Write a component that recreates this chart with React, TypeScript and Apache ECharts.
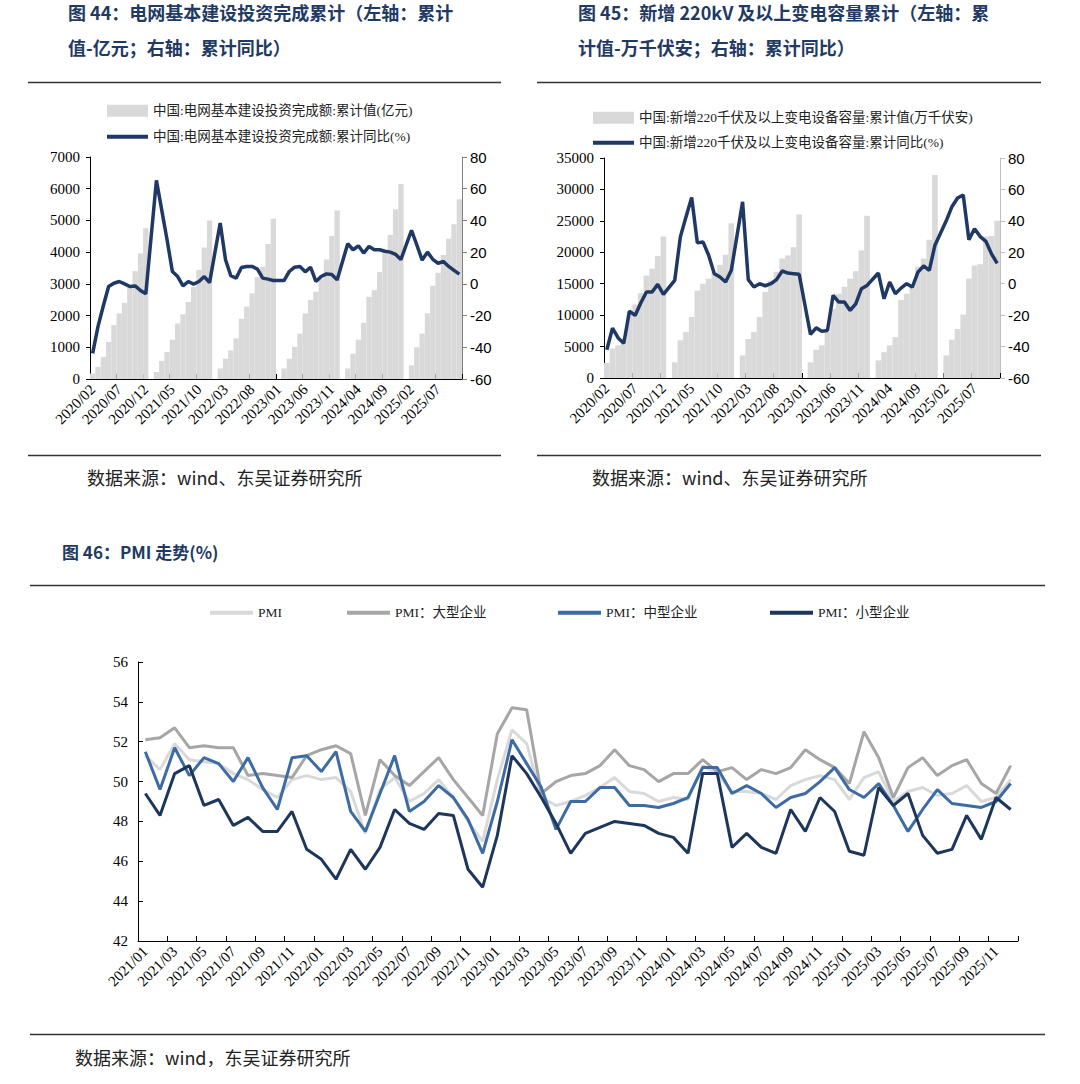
import React, { useEffect, useRef } from "react";
import * as echarts from "echarts";

// ---------- categories ----------
function monthRange(y0: number, m0: number, y1: number, m1: number): string[] {
  const out: string[] = [];
  let y = y0, m = m0;
  while (y < y1 || (y === y1 && m <= m1)) {
    out.push(`${y}/${m < 10 ? "0" + m : m}`);
    m++;
    if (m > 12) { m = 1; y++; }
  }
  return out;
}
const cats44 = monthRange(2020, 2, 2025, 11); // 70 months
const cats46 = monthRange(2021, 1, 2025, 12); // 60 months

// ---------- Fig 44: grid investment (Feb..Dec each year, Jan missing) ----------
const invest2020 = [170, 380, 700, 1170, 1700, 2070, 2400, 2900, 3400, 3960, 4750];
const invest2021 = [220, 570, 850, 1240, 1750, 2040, 2430, 2900, 3440, 4150, 5000];
const invest2022 = [330, 640, 900, 1280, 1900, 2280, 2700, 3220, 3540, 4260, 5050];
const invest2023 = [330, 640, 1010, 1430, 2070, 2490, 2750, 3170, 3770, 4510, 5310];
const invest2024 = [330, 800, 1240, 1770, 2590, 2800, 3370, 4000, 4540, 5350, 6150];
const invest2025 = [430, 1000, 1430, 2070, 2940, 3350, 3910, 4420, 4880, 5670];

const investYoy2020 = [-43.8, -27, -14, -1.7, 0.4, 1.5, 0, -1.7, -1.3, -4.2, -6.3];
const investYoy2021 = [65.3, 46.5, 27.8, 7.8, 4.6, -1.3, 1.5, -0.2, 1.5, 4.6, 0.8];
const investYoy2022 = [38.4, 15.2, 5.1, 3.6, 10.3, 11, 11, 9.3, 3.6, 3.0, 2.1];
const investYoy2023 = [2.1, 7.8, 10.5, 11, 7.6, 10.5, 1.5, 4.6, 6.3, 5.9, 2.5];
const investYoy2024 = [25.3, 21.5, 24.0, 19.4, 23.6, 21.5, 21.5, 20.6, 20.0, 18.6, 15.3];
const investYoy2025 = [33.8, 24.5, 15.0, 20.0, 15.5, 13.0, 14.1, 11.0, 8.5, 6.1];

// ---------- Fig 45: new 220kV+ substation capacity ----------
const cap2020 = [2400, 4700, 5200, 6000, 10500, 11700, 13500, 16300, 17400, 19400, 22500];
const cap2021 = [2500, 6000, 7300, 9700, 13900, 15000, 15800, 16900, 18000, 19600, 24600];
const cap2022 = [3600, 6200, 7300, 9700, 13700, 15500, 16900, 19000, 19500, 20800, 26000];
const cap2023 = [2500, 4500, 5200, 7300, 11000, 13400, 14500, 15800, 17000, 20300, 25800];
const cap2024 = [2800, 4100, 5200, 6500, 12400, 13400, 14500, 17700, 19000, 22000, 32300];
const cap2025 = [3600, 6100, 7800, 10100, 15800, 17900, 18100, 22500, 22600, 25000];

const capYoy2020 = [-42, -28.3, -34.5, -37.9, -17.4, -20.2, -12.3, -5.3, -5.3, -0.4, -6.8];
const capYoy2021 = [2.1, 29.8, 42.6, 54.9, 26, 26.6, 18.1, 6.4, 4.3, 1.1, 8.5];
const capYoy2022 = [52.1, 2.6, -2.1, 0, -1.3, 0, 2.6, 8.1, 6.8, 6.4, 6.0];
const capYoy2023 = [-32.3, -28.1, -30.2, -29.8, -7.4, -11.7, -11.7, -17, -12.8, -3.2, -1.1];
const capYoy2024 = [6.8, -9.6, 1.1, -6.4, -2.8, 0, -2.1, 7.4, 11.3, 8.5, 24.5];
const capYoy2025 = [40, 49, 54.5, 56.5, 28, 35, 30, 27, 19, 13];

// ---------- Fig 46: PMI ----------
const pmiAll = [
  51.3, 50.6, 51.9, 51.1, 51.0, 50.9, 50.4, 50.1, 49.6, 49.2, 50.1, 50.3,
  50.1, 50.2, 49.5, 47.4, 49.6, 50.2, 49.0, 49.4, 50.1, 49.2, 48.0, 47.0,
  50.1, 52.6, 51.9, 49.2, 48.8, 49.0, 49.3, 49.7, 50.2, 49.5, 49.4, 49.0,
  49.2, 49.1, 50.8, 50.4, 49.5, 49.5, 49.4, 49.1, 49.8, 50.1, 50.3, 50.1,
  49.1, 50.2, 50.5, 49.0, 49.5, 49.7, 49.3, 49.4, 49.8, 49.0, 49.2, 50.1,
];
const pmiLarge = [
  52.1, 52.2, 52.7, 51.7, 51.8, 51.7, 51.7, 50.3, 50.4, 50.3, 50.2, 51.3,
  51.6, 51.8, 51.4, 48.3, 51.1, 50.3, 49.8, 50.5, 51.2, 50.1, 49.2, 48.3,
  52.4, 53.7, 53.6, 49.4, 50.0, 50.3, 50.4, 50.8, 51.6, 50.8, 50.6, 50.0,
  50.4, 50.4, 51.1, 50.5, 50.7, 50.1, 50.6, 50.4, 50.7, 51.6, 51.1, 50.7,
  49.9, 52.5, 51.2, 49.2, 50.7, 51.2, 50.3, 50.8, 51.1, 49.9, 49.4, 50.8,
];
const pmiMedium = [
  51.5, 49.6, 51.7, 50.3, 51.2, 50.9, 50.0, 51.2, 49.7, 48.6, 51.2, 51.3,
  50.5, 51.5, 48.5, 47.5, 49.4, 51.3, 48.5, 49.0, 49.8, 49.2, 48.1, 46.4,
  49.0, 52.1, 50.9, 49.7, 47.6, 49.0, 49.0, 49.7, 49.7, 48.8, 48.8, 48.7,
  48.9, 49.2, 50.7, 50.7, 49.4, 49.8, 49.4, 48.7, 49.2, 49.4, 50.0, 50.7,
  49.6, 49.2, 49.9, 48.8, 47.5, 48.6, 49.6, 48.9, 48.8, 48.7, 49.0, 49.9,
];
const pmiSmall = [
  49.4, 48.3, 50.4, 50.8, 48.8, 49.1, 47.8, 48.2, 47.5, 47.5, 48.5, 46.6,
  46.1, 45.1, 46.6, 45.6, 46.7, 48.6, 47.9, 47.6, 48.4, 48.3, 45.6, 44.7,
  47.3, 51.3, 50.4, 49.2, 47.9, 46.4, 47.4, 47.7, 48.0, 47.9, 47.8, 47.4,
  47.2, 46.4, 50.4, 50.4, 46.7, 47.4, 46.7, 46.4, 48.6, 47.5, 49.2, 48.5,
  46.5, 46.3, 49.7, 48.8, 49.4, 47.3, 46.4, 46.6, 48.3, 47.1, 49.2, 48.6,
];

// ---------- texts ----------
const N44B = "中国:电网基本建设投资完成额:累计值(亿元)";
const N44L = "中国:电网基本建设投资完成额:累计同比(%)";
const N45B = "中国:新增220千伏及以上变电设备容量:累计值(万千伏安)";
const N45L = "中国:新增220千伏及以上变电设备容量:累计同比(%)";
const N46 = ["PMI", "PMI：大型企业", "PMI：中型企业", "PMI：小型企业"];

// join yearly Feb..Dec blocks, January has no data
function withJanGaps(blocks: number[][]): (number | null)[] {
  const out: (number | null)[] = [];
  blocks.forEach((b, k) => {
    if (k > 0) out.push(null);
    b.forEach((v) => out.push(v));
  });
  return out;
}

const SERIF = "'Liberation Serif','Times New Roman','Noto Sans CJK SC',serif";
const SANS = "'Liberation Sans',Arial,'Noto Sans CJK SC',sans-serif";
const CJK = "'Noto Sans CJK SC','Liberation Sans',sans-serif";
const NAVY = "#1F3864";
const TITLE = "#1F3A63";
const BAR = "#d9d9d9";

function catAxis(gridIndex: number, data: string[], every: number) {
  return {
    type: "category",
    gridIndex,
    data,
    boundaryGap: true,
    axisLine: { show: true, onZero: false, lineStyle: { color: "#000", width: 1 } },
    axisTick: { show: true, inside: true, length: 5, interval: every, lineStyle: { color: "#000" } },
    axisLabel: { interval: every, rotate: 45, fontSize: 15, fontFamily: SERIF, color: "#000", margin: 8 },
    splitLine: { show: false },
  };
}

function valAxis(gridIndex: number, position: string, min: number, max: number, interval: number, opts: any) {
  return {
    type: "value",
    gridIndex,
    position,
    min,
    max,
    interval,
    axisLine: { show: true, lineStyle: { color: opts.lineColor } },
    axisTick: { show: true, inside: !!opts.inside, length: opts.tickLen ?? 4, lineStyle: { color: opts.lineColor } },
    axisLabel: {
      fontFamily: opts.font, fontSize: 15, color: "#000", margin: opts.margin ?? 10,
      formatter: (v: number) => String(v),
    },
    splitLine: { show: false },
  };
}

function txt(x: number, y: number, text: string, size: number, color: string, bold: boolean, family = CJK) {
  return {
    type: "text",
    x,
    y,
    style: {
      text,
      fill: color,
      fontSize: size,
      fontWeight: bold ? "bold" : "normal",
      fontFamily: family,
      verticalAlign: "middle",
      align: "left",
    },
  };
}

function rule(x1: number, x2: number, y: number) {
  return { type: "line", shape: { x1, y1: y, x2, y2: y }, style: { stroke: "#333", lineWidth: 1.5 } };
}

function legendItem(name: string, left: number, centerY: number, w: number, h: number, size = 13.5) {
  return {
    left,
    top: centerY - 12,
    orient: "horizontal",
    itemWidth: w,
    itemHeight: h,
    selectedMode: false,
    textStyle: { fontFamily: SERIF, fontSize: size, color: "#222" },
    data: [{ name, icon: "rect" }],
  };
}

export default function App() {
  const ref = useRef<HTMLDivElement>(null);

  useEffect(() => {
    if (!ref.current) return;
    const chart = echarts.init(ref.current, undefined, { renderer: "svg" });

    const pmiColors = ["#d9d9d9", "#a6a6a6", "#3d6ba3", "#1c365c"];
    const pmiData = [pmiAll, pmiLarge, pmiMedium, pmiSmall];
    const pmiLegendLeft = [205, 342, 553, 765];

    const option: any = {
      animation: false,
      backgroundColor: "#ffffff",
      grid: [
        { left: 90, top: 157, width: 372, height: 222 },
        { left: 604, top: 158, width: 396, height: 220 },
        { left: 138, top: 662, width: 880, height: 279 },
      ],
      xAxis: [catAxis(0, cats44, 4), catAxis(1, cats44, 4), catAxis(2, cats46, 1)],
      yAxis: [
        valAxis(0, "left", 0, 7000, 1000, { lineColor: "#000", font: SERIF, tickLen: 4 }),
        valAxis(0, "right", -60, 80, 20, { lineColor: "#808080", font: SANS, tickLen: 5, margin: 8 }),
        valAxis(1, "left", 0, 35000, 5000, { lineColor: "#000", font: SERIF, tickLen: 4 }),
        valAxis(1, "right", -60, 80, 20, { lineColor: "#bfbfbf", font: SANS, tickLen: 5, margin: 8 }),
        valAxis(2, "left", 42, 56, 2, { lineColor: "#000", font: SERIF, tickLen: 5, inside: true }),
      ],
      legend: [
        legendItem(N44B, 102, 111, 41, 12),
        legendItem(N44L, 102, 137, 41, 4),
        legendItem(N45B, 588, 118, 41, 12),
        legendItem(N45L, 588, 143, 41, 4),
        ...N46.map((n, i) => legendItem(n, pmiLegendLeft[i], 613, 43, 4)),
      ],
      series: [
        {
          name: N44B, type: "bar", xAxisIndex: 0, yAxisIndex: 0,
          data: withJanGaps([invest2020, invest2021, invest2022, invest2023, invest2024, invest2025]),
          barCategoryGap: "0%", itemStyle: { color: BAR }, z: 1,
        },
        {
          name: N44L, type: "line", xAxisIndex: 0, yAxisIndex: 1,
          data: withJanGaps([investYoy2020, investYoy2021, investYoy2022, investYoy2023, investYoy2024, investYoy2025]),
          symbol: "none", connectNulls: true,
          lineStyle: { color: NAVY, width: 3.5 }, itemStyle: { color: NAVY }, z: 3,
        },
        {
          name: N45B, type: "bar", xAxisIndex: 1, yAxisIndex: 2,
          data: withJanGaps([cap2020, cap2021, cap2022, cap2023, cap2024, cap2025]),
          barCategoryGap: "0%", itemStyle: { color: BAR }, z: 1,
        },
        {
          name: N45L, type: "line", xAxisIndex: 1, yAxisIndex: 3,
          data: withJanGaps([capYoy2020, capYoy2021, capYoy2022, capYoy2023, capYoy2024, capYoy2025]),
          symbol: "none", connectNulls: true,
          lineStyle: { color: NAVY, width: 3.5 }, itemStyle: { color: NAVY }, z: 3,
        },
        ...N46.map((n, i) => ({
          name: n, type: "line", xAxisIndex: 2, yAxisIndex: 4, data: pmiData[i],
          symbol: "none", lineStyle: { color: pmiColors[i], width: 3 }, itemStyle: { color: pmiColors[i] },
          z: 2 + i,
        })),
      ],
      graphic: [
        txt(68, 12, "图 44：电网基本建设投资完成累计（左轴：累计", 18, TITLE, true),
        txt(68, 47, "值-亿元；右轴：累计同比）", 18, TITLE, true),
        txt(578, 12, "图 45：新增 220kV 及以上变电容量累计（左轴：累", 18, TITLE, true),
        txt(578, 47, "计值-万千伏安；右轴：累计同比）", 18, TITLE, true),
        rule(28, 501, 82.5),
        rule(537, 1041, 82.5),
        rule(28, 501, 455.5),
        rule(537, 1041, 455.5),
        txt(87, 477, "数据来源：wind、东吴证券研究所", 18, "#222", false),
        txt(592, 477, "数据来源：wind、东吴证券研究所", 18, "#222", false),
        txt(62, 551, "图 46：PMI 走势(%)", 17, TITLE, true),
        rule(30, 1045, 585.5),
        rule(30, 1045, 1034.5),
        txt(75, 1057, "数据来源：wind，东吴证券研究所", 18, "#222", false),
      ],
    };

    chart.setOption(option);
    return () => chart.dispose();
  }, []);

  return (
    <div
      ref={ref}
      style={{ position: "absolute", left: 0, top: 0, width: 1080, height: 1084, background: "#fff" }}
    />
  );
}
